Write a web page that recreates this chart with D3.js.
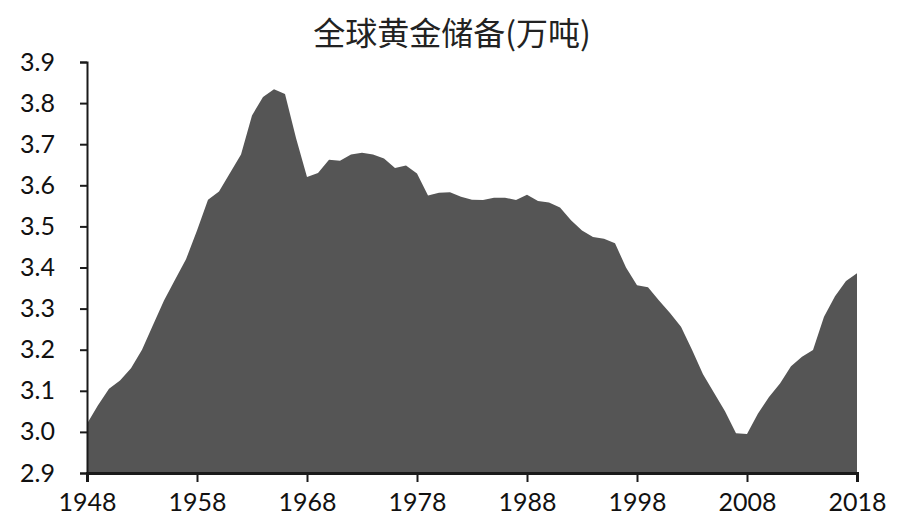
<!DOCTYPE html>
<html>
<head>
<meta charset="utf-8">
<script src="https://cdn.jsdelivr.net/npm/d3@7"></script>
<style>
  body { margin: 0; background: #fff; }
  svg { display: block; }
</style>
</head>
<body>
<div id="chart"></div>
<script>
let chartTitle = "全球黄金储备(万吨)";
let years = d3.range(1948, 2019);
// reserves, 10k tonnes, one value per year 1948..2018
let reserves = [
    3.020, 3.065, 3.105, 3.125, 3.155, 3.200, 3.260, 3.320, 3.370, 3.420,
    3.490, 3.565, 3.585, 3.630, 3.675, 3.770, 3.815, 3.834, 3.822, 3.715,
    3.620, 3.630, 3.662, 3.660, 3.675, 3.679, 3.675, 3.665, 3.642, 3.648,
    3.629, 3.575, 3.582, 3.583, 3.572, 3.565, 3.564, 3.570, 3.570, 3.564,
    3.577, 3.562, 3.558, 3.546, 3.515, 3.490, 3.474, 3.470, 3.459, 3.400,
    3.357, 3.352, 3.320, 3.289, 3.256, 3.200, 3.140, 3.095, 3.050, 2.997,
    2.995, 3.045, 3.085, 3.118, 3.160, 3.183, 3.199, 3.280, 3.330, 3.367,
    3.386
];
let yTicks = [2.9, 3.0, 3.1, 3.2, 3.3, 3.4, 3.5, 3.6, 3.7, 3.8, 3.9];
let xTicks = [1948, 1958, 1968, 1978, 1988, 1998, 2008, 2018];

let width = 900, height = 525;
let margin = {left: 87, right: 43, top: 62, bottom: 52};

let svg = d3.select("#chart").append("svg").attr("width", width).attr("height", height);

let x = d3.scaleLinear().domain([1948, 2018]).range([margin.left, width - margin.right]);
let y = d3.scaleLinear().domain([2.9, 3.9]).range([height - margin.bottom, margin.top]);

//Area fill
let area = d3.area().x((d, i) => x(years[i])).y0(y(2.9)).y1(d => y(d));
svg.append("path").datum(reserves).attr("d", area).attr("fill", "#555555");

//Title
svg.append("text").text(chartTitle)
    .attr("x", 452).attr("y", 45)
    .attr("text-anchor", "middle")
    .attr("style", "font: 32px 'Noto Sans CJK SC', sans-serif; fill: #222");

//Axes
let yAxis = svg.append("g").attr("transform", `translate(${margin.left}, 0)`)
    .call(d3.axisLeft(y).tickValues(yTicks).tickFormat(d3.format(".1f")).tickSize(7).tickPadding(25));
let xAxis = svg.append("g").attr("transform", `translate(0, ${height - margin.bottom})`)
    .call(d3.axisBottom(x).tickValues(xTicks).tickFormat(d3.format("d")).tickSize(9).tickPadding(11));

[yAxis, xAxis].forEach(a => {
    a.select(".domain").attr("stroke", "#1a1a1a");
    a.selectAll(".tick line").attr("stroke", "#1a1a1a").attr("stroke-width", 2);
    a.selectAll("text").attr("style", "font: 25px Lato, sans-serif; fill: #111");
});
yAxis.select(".domain").attr("stroke-width", 2);
xAxis.select(".domain").attr("stroke-width", 3);
</script>
</body>
</html>
